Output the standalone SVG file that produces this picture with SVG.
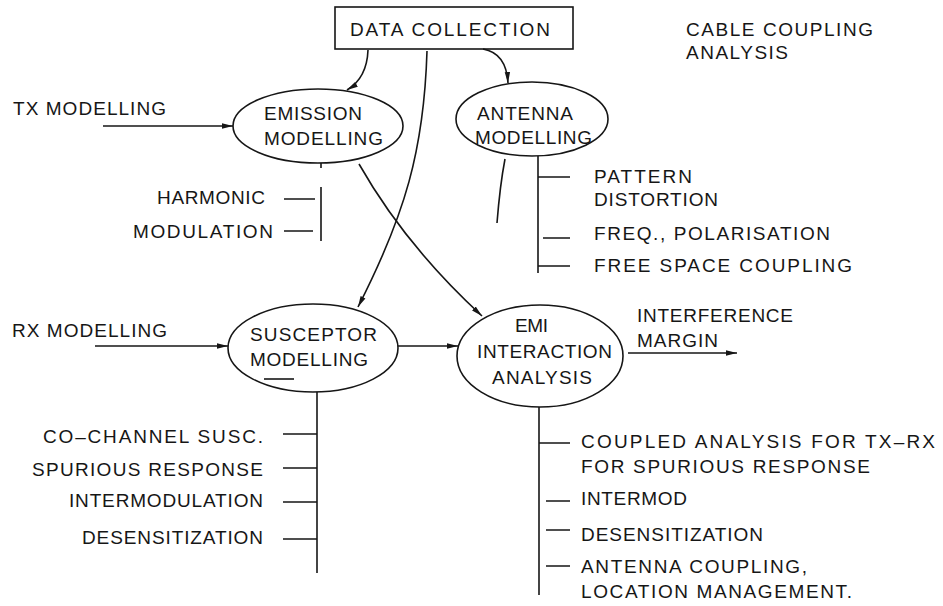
<svg xmlns="http://www.w3.org/2000/svg" width="943" height="606" viewBox="0 0 943 606">
<style>
text{font-family:"Liberation Sans",Arial,sans-serif;font-size:19px;fill:#161616;}
.n{fill:none;stroke:#161616;stroke-width:1.6;}
.c{fill:none;stroke:#161616;stroke-width:1.6;}
</style>
<defs>
<marker id="ah" markerWidth="12" markerHeight="7" refX="11" refY="3.5" orient="auto" markerUnits="userSpaceOnUse">
<path d="M0,0.8 L11,3.5 L0,6.2 z" fill="#161616"/>
</marker>
</defs>
<rect width="943" height="606" fill="#fff"/>

<g id="data-collection">
<rect class="n" x="335" y="7" width="238" height="42"/>
<text x="350" y="36" textLength="200" lengthAdjust="spacing">DATA COLLECTION</text>
</g>

<g id="cable-coupling">
<text x="686" y="36" textLength="187" lengthAdjust="spacing">CABLE COUPLING</text>
<text x="686" y="59" textLength="102" lengthAdjust="spacing">ANALYSIS</text>
</g>

<g id="tx-modelling">
<text x="13" y="115" textLength="153" lengthAdjust="spacing">TX MODELLING</text>
</g>

<g id="emission-modelling">
<ellipse class="n" cx="318" cy="126" rx="85" ry="37"/>
<text x="264" y="120" textLength="98" lengthAdjust="spacing">EMISSION</text>
<text x="264" y="145" textLength="119" lengthAdjust="spacing">MODELLING</text>
</g>

<g id="antenna-modelling">
<ellipse class="n" cx="532" cy="119" rx="76" ry="37"/>
<text x="477" y="120" textLength="96" lengthAdjust="spacing">ANTENNA</text>
<text x="475" y="144" textLength="117" lengthAdjust="spacing">MODELLING</text>
</g>

<g id="emission-list">
<text x="157" y="204" textLength="108" lengthAdjust="spacing">HARMONIC</text>
<text x="133" y="238" textLength="140" lengthAdjust="spacing">MODULATION</text>
</g>

<g id="antenna-list">
<text x="594" y="183" textLength="98" lengthAdjust="spacing">PATTERN</text>
<text x="594" y="206" textLength="124" lengthAdjust="spacing">DISTORTION</text>
<text x="594" y="240" textLength="236" lengthAdjust="spacing">FREQ., POLARISATION</text>
<text x="594" y="272" textLength="258" lengthAdjust="spacing">FREE SPACE COUPLING</text>
</g>

<g id="rx-modelling">
<text x="12" y="337" textLength="155" lengthAdjust="spacing">RX MODELLING</text>
</g>

<g id="susceptor-modelling">
<ellipse class="n" cx="313" cy="348" rx="85" ry="44"/>
<text x="250" y="341" textLength="127" lengthAdjust="spacing">SUSCEPTOR</text>
<text x="250" y="366" textLength="118" lengthAdjust="spacing">MODELLING</text>
</g>

<g id="emi-interaction-analysis">
<ellipse class="n" cx="540" cy="356" rx="83" ry="51"/>
<text x="515" y="332" textLength="33" lengthAdjust="spacing">EMI</text>
<text x="477" y="358" textLength="135" lengthAdjust="spacing">INTERACTION</text>
<text x="492" y="384" textLength="100" lengthAdjust="spacing">ANALYSIS</text>
</g>

<g id="interference-margin">
<text x="637" y="322" textLength="156" lengthAdjust="spacing">INTERFERENCE</text>
<text x="637" y="347" textLength="81" lengthAdjust="spacing">MARGIN</text>
</g>

<g id="susceptor-list">
<text x="43" y="443" textLength="220" lengthAdjust="spacing">CO–CHANNEL SUSC.</text>
<text x="32" y="476" textLength="231" lengthAdjust="spacing">SPURIOUS RESPONSE</text>
<text x="69" y="507" textLength="194" lengthAdjust="spacing">INTERMODULATION</text>
<text x="82" y="544" textLength="181" lengthAdjust="spacing">DESENSITIZATION</text>
</g>

<g id="emi-list">
<text x="581" y="448" textLength="354" lengthAdjust="spacing">COUPLED ANALYSIS FOR TX–RX</text>
<text x="581" y="473" textLength="289" lengthAdjust="spacing">FOR SPURIOUS RESPONSE</text>
<text x="581" y="505" textLength="106" lengthAdjust="spacing">INTERMOD</text>
<text x="581" y="541" textLength="182" lengthAdjust="spacing">DESENSITIZATION</text>
<text x="581" y="573" textLength="226" lengthAdjust="spacing">ANTENNA COUPLING,</text>
<text x="581" y="598" textLength="271" lengthAdjust="spacing">LOCATION MANAGEMENT.</text>
</g>

<g id="connectors">
<path class="c" d="M368,50 Q367,78 347,90" marker-end="url(#ah)"/>
<path class="c" d="M427,51 C424,150 405,215 358,307" marker-end="url(#ah)"/>
<path class="c" d="M483,49 C500,52 507,65 508,83" marker-end="url(#ah)"/>
<path class="c" d="M359,164 Q405,245 482,316" marker-end="url(#ah)"/>
<path class="c" d="M505,159 Q500,185 497,223"/>
<path class="c" d="M103,126 L233,126" marker-end="url(#ah)"/>
<path class="c" d="M95,346 L228,346" marker-end="url(#ah)"/>
<path class="c" d="M398,346 L458,346" marker-end="url(#ah)"/>
<path class="c" d="M628,353 L737,353" marker-end="url(#ah)"/>
<path class="c" d="M321,163 L321,168 M321,187 L321,241"/>
<path class="c" d="M284,199 L315,199 M284,231 L313,231"/>
<path class="c" d="M538,156 L538,273"/>
<path class="c" d="M538,177 L570,177 M543,238 L570,238 M538,266 L570,266"/>
<path class="c" d="M317,392 L317,573"/>
<path class="c" d="M283,434 L317,434 M283,468 L317,468 M283,502 L317,502 M283,539 L317,539"/>
<path class="c" d="M264,379 L294,379"/>
<path class="c" d="M539,407 L539,595"/>
<path class="c" d="M539,443 L570,443 M546,501 L570,501 M546,530 L570,530 M546,566 L570,566"/>
</g>
</svg>
